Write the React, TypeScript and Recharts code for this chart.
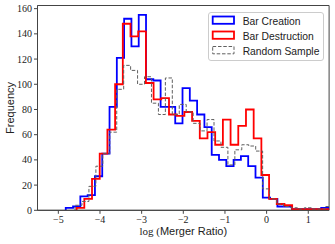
import React from "react";
import { LineChart, Line, XAxis, YAxis, ReferenceArea, Legend, Label } from "recharts";

// histogram bins, in log(merger ratio) units
const creationStart = -4.822;
const creationWidth = 0.1752;
const creationCounts = [
  2, 3, 11, 12, 27, 45, 82, 121, 152, 130, 155, 104, 103, 82, 82, 69, 97, 87,
  76, 66, 44, 40, 35, 40, 43, 35, 26, 10, 9, 3, 3, 1, 1, 1, 1, 2,
];

const destructionStart = -4.561;
const destructionWidth = 0.1848;
const destructionCounts = [
  2, 9, 25, 45, 64, 100, 148, 138, 142, 101, 88, 89, 76, 75, 78, 71, 57, 62,
  52, 72, 52, 67, 80, 57, 28, 9, 5, 4, 1, 1, 1, 1, 1,
];

const randomStart = -4.599;
const randomWidth = 0.1668;
const randomCounts = [
  4, 7, 19, 35, 45, 62, 96, 115, 111, 100, 106, 85, 76, 105, 76, 84, 78, 69,
  63, 72, 55, 50, 36, 48, 52, 51, 47, 17, 9, 5, 3, 2, 1, 2, 1, 1, 3,
];

const xTicks = [-5, -4, -3, -2, -1, 0, 1];
const yTicks = [0, 20, 40, 60, 80, 100, 120, 140, 160];

// outline of a step histogram: up from zero, across each bin, back down
const toSteps = (start: number, width: number, counts: number[]) => {
  const pts = [{ x: start, y: 0 }];
  counts.forEach((c, i) => pts.push({ x: start + i * width, y: c }));
  pts.push({ x: start + counts.length * width, y: 0 });
  return pts;
};

const series = [
  { name: "Bar Creation", color: "#0000ff", width: 1.8, dash: undefined as string | undefined, data: toSteps(creationStart, creationWidth, creationCounts) },
  { name: "Bar Destruction", color: "#ff0000", width: 1.8, dash: undefined as string | undefined, data: toSteps(destructionStart, destructionWidth, destructionCounts) },
  { name: "Random Sample", color: "#606060", width: 1, dash: "3.5 1.8", data: toSteps(randomStart, randomWidth, randomCounts) },
];

const fmtTick = (v: number) => (v < 0 ? `\u2212${-v}` : `${v}`);

const tickStyle = { fill: "#222", fontSize: 10, fontFamily: "Liberation Serif" };

const HistLegend = () => (
  <svg width={117} height={50} style={{ display: "block" }}>
    <rect x={0.5} y={0.5} width={115} height={48} rx={2.5} fill="#fff" fillOpacity={0.8} stroke="#cccccc" />
    {series.map((s, i) => (
      <g key={s.name}>
        <rect
          x={4.7}
          y={4.5 + 15 * i}
          width={21.3}
          height={7.3}
          fill="none"
          stroke={s.color}
          strokeWidth={s.width}
          strokeDasharray={s.dash}
        />
        <text x={34.7} y={12.5 + 15 * i} fontSize={10.3} fontFamily="Liberation Sans" fill="#222">
          {s.name}
        </text>
      </g>
    ))}
  </svg>
);

export default function App() {
  return (
    <div style={{ position: "absolute", left: 0, top: 0, background: "#fff" }}>
      <LineChart width={335} height={244} margin={{ top: 5.5, right: 5.9, left: 0, bottom: 0 }}>
        <XAxis
          dataKey="x"
          type="number"
          domain={[-5.5, 1.5]}
          allowDataOverflow
          ticks={xTicks}
          tickFormatter={fmtTick}
          tick={tickStyle}
          tickSize={3.5}
          height={33.7}
          axisLine={{ stroke: "#444" }}
          tickLine={{ stroke: "#444" }}
        >
          <Label
            content={() => (
              <text x={183.3} y={235} textAnchor="middle" fontSize={11} fill="#222">
                <tspan fontFamily="Liberation Serif">log (</tspan>
                <tspan fontFamily="Liberation Sans">Merger Ratio)</tspan>
              </text>
            )}
          />
        </XAxis>
        <YAxis
          type="number"
          domain={[0, 162.5]}
          allowDataOverflow
          ticks={yTicks}
          tick={tickStyle}
          tickSize={3.5}
          width={37.5}
          axisLine={{ stroke: "#444" }}
          tickLine={{ stroke: "#444" }}
        >
          <Label
            content={() => (
              <text
                x={14}
                y={107.9}
                transform="rotate(-90 14 107.9)"
                textAnchor="middle"
                fontSize={11}
                fontFamily="Liberation Sans"
                fill="#222"
              >
                Frequency
              </text>
            )}
          />
        </YAxis>
        {series.map((s) => (
          <Line
            key={s.name}
            name={s.name}
            data={s.data}
            dataKey="y"
            type="stepAfter"
            stroke={s.color}
            strokeWidth={s.width}
            strokeDasharray={s.dash}
            dot={false}
            activeDot={false}
            isAnimationActive={false}
          />
        ))}
        <ReferenceArea x1={-5.5} x2={1.5} y1={0} y2={162.5} fill="none" stroke="#444" strokeWidth={1} />
        <Legend
          content={<HistLegend />}
          verticalAlign="middle"
          align="center"
          wrapperStyle={{ left: 208, top: 11.5, width: 117, height: 50 }}
        />
      </LineChart>
    </div>
  );
}
